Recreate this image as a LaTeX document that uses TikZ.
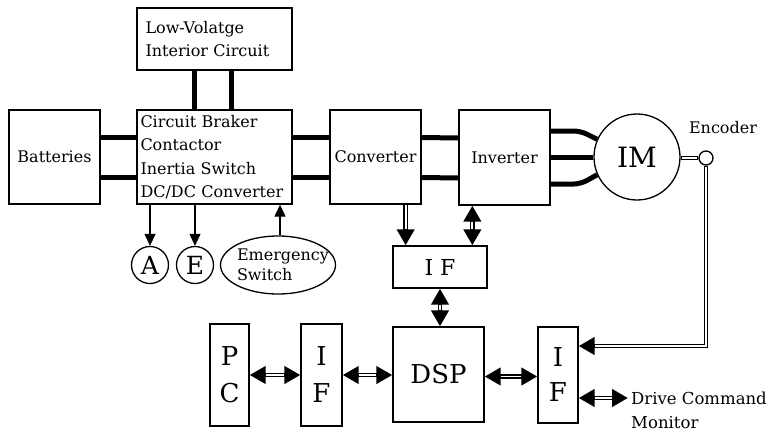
\documentclass[tikz,border=0pt]{standalone}
\usepackage{fontspec}
\setmainfont{DejaVu Serif}
\usetikzlibrary{arrows.meta,shapes.geometric,calc}
\newcommand\dblcon[4]{\draw[dblout,#1] #4; \draw[dblin,shorten <=#2,shorten >=#3] #4;}
\begin{document}
\begin{tikzpicture}[x=1pt,y=-1pt,
  >={Triangle[length=16pt,width=17pt]},
  box/.style={draw, line width=1.3pt, inner sep=0pt, font=\fontsize{16}{23.5}\selectfont},
  rnd/.style={draw, circle, line width=1.3pt, inner sep=0pt},
  power/.style={line width=5pt},
  thinarrow/.style={line width=1.2pt, -{Triangle[length=12pt,width=11pt]}},
  dblout/.style={line width=4.8pt},
  dblin/.style={white, line width=1.8pt},
  txt/.style={inner sep=0pt, font=\fontsize{16}{23}\selectfont}]
\useasboundingbox (0,0) rectangle (772,432);
% blocks
\node[box, minimum width=155pt, minimum height=62pt, text width=138pt, align=left] (lv) at (214.5,39) {Low-Volatge\\Interior Circuit};
\node[box, minimum width=155pt, minimum height=94pt, text width=148pt, align=left] (cb) at (214.5,157) {Circuit Braker\\Contactor\\Inertia Switch\\DC/DC Converter};
\node[box, minimum width=91pt, minimum height=94pt] (bat) at (54.5,157) {Batteries};
\node[box, minimum width=91pt, minimum height=94pt] (conv) at (375.5,157) {Converter};
\node[box, minimum width=91pt, minimum height=95pt] (inv) at (504.5,157.5) {Inverter};
\node[rnd, minimum size=86pt, font=\fontsize{28}{28}\selectfont] (im) at (637,157) {IM};
\node[rnd, minimum size=14pt, fill=white] (enc) at (706,158) {};
\node[txt] (enclbl) at (723,128) {Encoder};
\node[box, minimum width=94pt, minimum height=42pt, font=\fontsize{22}{22}\selectfont] (ift) at (440,267) {I\hspace{7pt}F};
\node[box, minimum width=91pt, minimum height=95pt, font=\fontsize{26}{26}\selectfont] (dsp) at (438.5,374.5) {DSP};
\node[box, minimum width=39pt, minimum height=102pt, align=center, font=\fontsize{26}{37}\selectfont] (pc) at (229.5,375) {P\\C};
\node[box, minimum width=41pt, minimum height=102pt, align=center, font=\fontsize{26}{37}\selectfont] (ifl) at (321.5,375) {I\\F};
\node[box, minimum width=40pt, minimum height=96pt, align=center, font=\fontsize{26}{35}\selectfont] (ifr) at (558,375) {I\\F};
\node[rnd, minimum size=37pt, font=\fontsize{25}{25}\selectfont] (a) at (150,265) {A};
\node[rnd, minimum size=37pt, font=\fontsize{25}{25}\selectfont] (e) at (195,265) {E};
\node[draw, ellipse, line width=1.3pt, inner sep=0pt, minimum width=115pt, minimum height=58pt,
  label={[txt, align=left, font=\fontsize{16}{20}\selectfont, xshift=5pt]center:Emergency\\Switch}] (es) at (278,265) {};
\node[txt, align=left, anchor=west, font=\fontsize{16.5}{24}\selectfont] (dc) at (631,410) {Drive Command\\Monitor};
% power lines
\coordinate (l1) at ($(lv.south west)+(58,0)$);
\coordinate (l2) at ($(lv.south west)+(95,0)$);
\draw[power] (l1) -- (l1 |- cb.north);
\draw[power] (l2) -- (l2 |- cb.north);
\draw[power] ([yshift=20pt]bat.east) -- ([yshift=20pt]cb.west);
\draw[power] ([yshift=-20pt]bat.east) -- ([yshift=-20pt]cb.west);
\draw[power] ([yshift=20pt]cb.east) -- ([yshift=20pt]conv.west);
\draw[power] ([yshift=-20pt]cb.east) -- ([yshift=-20pt]conv.west);
\draw[power] ([yshift=19.5pt]conv.east) -- ([yshift=19.5pt]inv.west);
\draw[power] ([yshift=-20.5pt]conv.east) -- ([yshift=-20.5pt]inv.west);
\draw[power, rounded corners=7pt] ([yshift=26.5pt]inv.east) -- ++(30,0) -- (im.156);
\draw[power] (inv.east |- im.west) -- (im.west);
\draw[power, rounded corners=7pt] ([yshift=-26.5pt]inv.east) -- ++(30,0) -- (im.204);
% thin arrows
\draw[thinarrow] (cb.south -| a.north) -- (a.north);
\draw[thinarrow] (cb.south -| e.north) -- (e.north);
\draw[thinarrow] ([xshift=2pt]es.north) -- ([xshift=2pt]es.north |- cb.south);
% double-line connectors
\coordinate (cv1) at ($(conv.south east)+(-16,0)$);
\coordinate (iv1) at ($(inv.south west)+(14,0)$);
\coordinate (cor) at (enc.south |- 0,346);
\coordinate (dcin) at (628,398);
\dblcon{-}{1pt}{1pt}{(im.east |- enc.west) -- (enc.west)}
\dblcon{->}{1pt}{16pt}{(enc.south) -- (cor) -- (cor -| ifr.east)}
\dblcon{->}{0.7pt}{16pt}{(cv1) -- (cv1 |- ift.north)}
\dblcon{<->}{16pt}{16pt}{(iv1) -- (iv1 |- ift.north)}
\dblcon{<->}{16pt}{16pt}{(ift.south) -- (ift.south |- dsp.north)}
\dblcon{<->}{16pt}{16pt}{(pc.east) -- (ifl.west)}
\dblcon{<->}{16pt}{16pt}{(ifl.east) -- (ifl.east -| dsp.west)}
\dblcon{<->}{16pt}{16pt}{([yshift=-2pt]dsp.east) -- ([yshift=-2pt]dsp.east -| ifr.west)}
\dblcon{<->}{16pt}{16pt}{(ifr.east |- dcin) -- (dcin)}
\end{tikzpicture}
\end{document}
